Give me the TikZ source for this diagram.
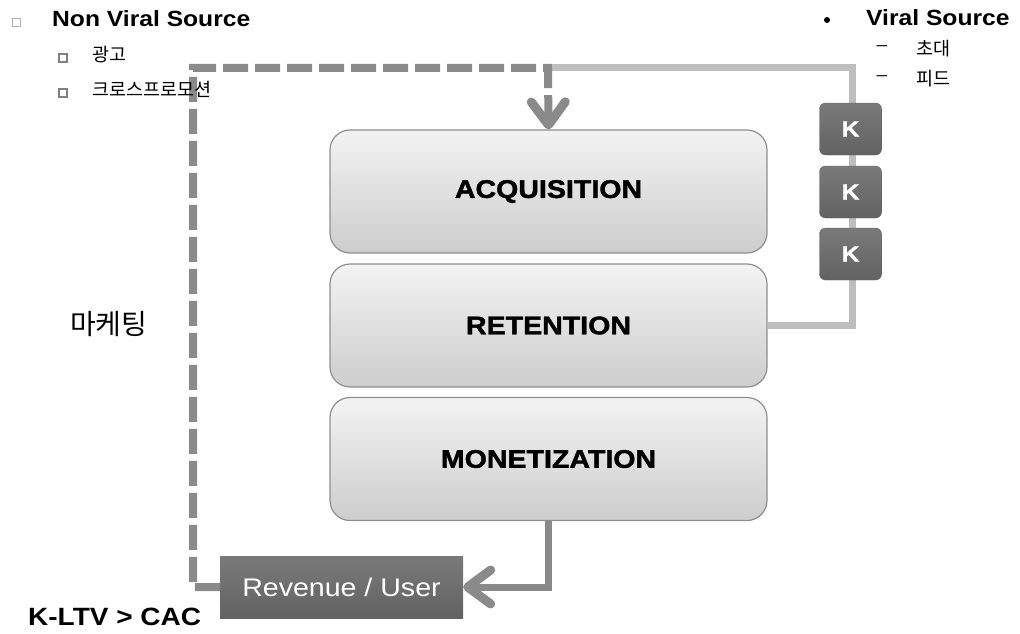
\documentclass[tikz,border=0pt]{standalone}
\usepackage{fontspec}
\setmainfont{Liberation Sans}[FakeStretch=1.12]
\newfontfamily\kofont{Noto Sans CJK KR}
\newfontfamily\heavyfont{Liberation Sans Bold}[FakeStretch=1.12, FakeBold=1.6]
\usepackage{tikz}
\usetikzlibrary{arrows.meta}
\usetikzlibrary{positioning}
\definecolor{boxedge}{HTML}{8E8E8E}
\definecolor{boxtop}{HTML}{F3F3F3}
\definecolor{boxbottom}{HTML}{CDCDCD}
\definecolor{darktop}{HTML}{7A7A7A}
\definecolor{darkbottom}{HTML}{626262}
\definecolor{loopline}{HTML}{8A8A8A}
\definecolor{kline}{HTML}{BEBEBE}
\tikzset{stage/.style = {draw=boxedge, line width=1.2pt, rounded corners=20pt,
                         top color=boxtop, bottom color=boxbottom,
                         minimum width=437pt, minimum height=123pt,
                         font=\heavyfont\fontsize{25.5}{30}\selectfont},
         kbox/.style = {draw=darkbottom, rounded corners=6pt, top color=darktop, bottom color=darkbottom,
                        minimum width=62pt, minimum height=52pt, text=white,
                        font=\heavyfont\fontsize{22}{26}\selectfont},
         revbox/.style = {top color=darktop, bottom color=darkbottom, minimum width=243pt,
                          minimum height=62pt, text=white, font=\fontsize{25.5}{30}\selectfont},
         flow/.style = {-{Straight Barb[length=23pt, width=34pt, line width=9pt, round]}},
         topbullet/.style = {draw=gray!60, line width=0.8pt, minimum size=8pt, inner sep=0pt},
         subbullet/.style = {draw=gray, line width=1.6pt, fill=white, minimum size=8pt, inner sep=0pt},
         head/.style = {anchor=base west, inner sep=0pt, font=\fontsize{22}{26}\selectfont\bfseries},
         sub/.style = {anchor=base west, inner sep=0pt, font=\kofont\fontsize{18.5}{22}\selectfont}}

\begin{document}
\begin{tikzpicture}[x=1pt, y=-1pt]
    \useasboundingbox (0, 0) rectangle (1020, 634);
    \node [stage] (acq) at (548.5, 191.5) {ACQUISITION};
    \node [stage] (ret) at (548.5, 325.5) {RETENTION};
    \node [stage] (mon) at (548.5, 459) {MONETIZATION};
    \node [revbox] (rev) at (341.5, 587) {Revenue / User};
    \coordinate (topleft) at (193, 68);
    \coordinate (topmid) at (548, 68);
    \coordinate (topright) at (852, 68);
    \draw [kline, line width=7pt] (topmid) -- (topright) |- (ret.east);
    \draw [loopline, line width=8pt, dash pattern=on 25pt off 7pt, flow]
        (rev.west) -- (rev.west -| topleft) |- (topmid) -- (acq.north);
    \draw [loopline, line width=7pt, flow] (mon.south) |- (rev.east);
    \foreach \y [count=\i] in {129, 192, 254}
        \node [kbox] (k\i) at (850.5, \y) {K};

    \node [topbullet] (nvdot) at (16, 22) {};
    \node [head] (nonviral) at (52, 27) {Non Viral Source};
    \node [subbullet] (addot) at (63, 58) {};
    \node [sub] (ad) at (92, 62) {광고};
    \node [subbullet] (crossdot) at (63, 93) {};
    \node [sub] (cross) at (92, 96) {크로스프로모션};

    \node [circle, fill, minimum size=6pt, inner sep=0pt] (vdot) at (827, 20) {};
    \node [head] (viral) at (866, 26) {Viral Source};
    \node [font=\fontsize{17}{20}\selectfont] (dash1) at (882, 48) {--};
    \node [sub] (invite) at (916, 56) {초대};
    \node [font=\fontsize{17}{20}\selectfont] (dash2) at (882, 78) {--};
    \node [sub] (feed) at (916, 85) {피드};

    \node [anchor=base west, inner sep=0pt, font=\kofont\fontsize{28}{32}\selectfont] (mkt) at (70, 334) {마케팅};
    \node [anchor=base west, inner sep=0pt, font=\fontsize{25}{28}\selectfont\bfseries] (kltv) at (28, 625) {K-LTV > CAC};
\end{tikzpicture}
\end{document}
